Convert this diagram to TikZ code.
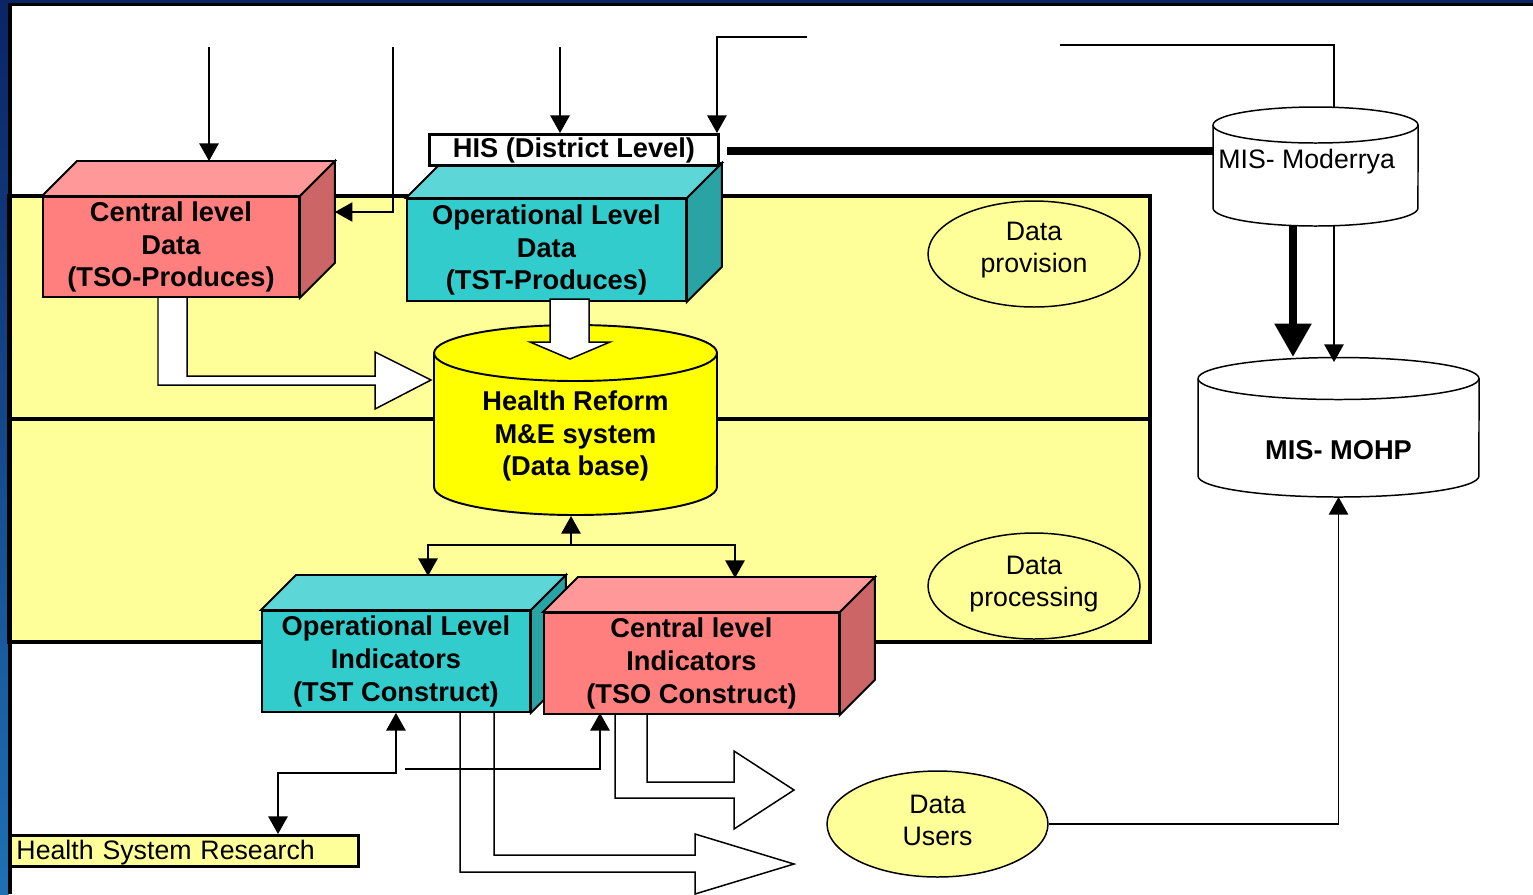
\documentclass[tikz,border=0pt]{standalone}
\usepackage{fontspec}
\setmainfont{Liberation Sans}
\usetikzlibrary{arrows.meta,calc,shapes.geometric}
\definecolor{bandY}{HTML}{FFFF99}
\definecolor{redF}{HTML}{FF7F7F}
\definecolor{redT}{HTML}{FF9999}
\definecolor{redS}{HTML}{CC6666}
\definecolor{tealF}{HTML}{33CCCC}
\definecolor{tealT}{HTML}{5CD6D6}
\definecolor{tealS}{HTML}{29A3A3}
\definecolor{cylY}{HTML}{FFFF00}
\definecolor{navyA}{HTML}{0B2466}
\definecolor{navyB}{HTML}{003399}
\definecolor{navyC}{HTML}{1E70B4}
\newcommand\cubefaces[4]{%
  \draw[boxline,fill=#2] (#1.north west) -- ++(#4,#4) -- ($(#1.north east)+(#4,#4)$) -- (#1.north east) -- cycle;
  \draw[boxline,fill=#3] (#1.north east) -- ++(#4,#4) -- ($(#1.south east)+(#4,#4)$) -- (#1.south east) -- cycle;
}
\tikzset{
  boxline/.style={draw=black, line width=1.1pt, line join=miter},
  frontface/.style={boxline, inner sep=0pt, anchor=north west, align=center,
    font=\bfseries\fontsize{15.5}{18.7}\selectfont},
  conn/.style={line width=0.85pt},
  arr/.style={conn, ->},
  blockarrow/.style={draw=black, fill=white, line width=0.85pt, line join=miter},
  ell/.style={ellipse, draw=black, fill=bandY, line width=0.85pt, inner sep=0pt},
  bt/.style={font=\bfseries\fontsize{15.5}{18.7}\selectfont, align=center, inner sep=0pt},
  nt/.style={font=\fontsize{15.2}{18.2}\selectfont, inner sep=0pt, align=center},
  >={Triangle[length=10pt,width=11pt]}
}
\begin{document}
\begin{tikzpicture}[x=0.02cm,y=0.02cm]
\useasboundingbox (0,0) rectangle (1533,-894);
% background frame
\fill[white] (0,0) rectangle (1533,-894);
\shade[top color=navyA, middle color=navyB, bottom color=navyC] (0,0) rectangle (8.5,-894);
\fill[navyA] (0,0) rectangle (1533,-3);
% yellow band
\draw[line width=2pt, fill=bandY] (9,-196) rectangle (1150,-642);
\draw[line width=2pt] (9,-419) -- (1150,-419);

% block arrows (under boxes)
\draw[blockarrow] (158,-296) -- (187,-296) -- (187,-376) -- (375,-376) -- (375,-352) -- (431,-380) -- (375,-409) -- (375,-385) -- (158,-385) -- cycle;
\draw[blockarrow] (460,-709) -- (494,-709) -- (494,-855) -- (695,-855) -- (695,-834) -- (794,-864) -- (695,-894) -- (695,-872) -- (460,-872) -- cycle;
\draw[blockarrow] (615,-712) -- (647,-712) -- (647,-782) -- (734,-782) -- (734,-751) -- (794,-790) -- (734,-829) -- (734,-798) -- (615,-798) -- cycle;

% Central level data
\node[frontface, fill=redF, minimum width=5.12cm, minimum height=2cm] (cld) at (42,-196) {Central level\\Data\\(TSO-Produces)};
\cubefaces{cld}{redT}{redS}{35}
% Operational level data
\node[frontface, fill=tealF, minimum width=5.58cm, minimum height=2.04cm] (old) at (406,-198) {Operational Level\\Data\\(TST-Produces)};
\cubefaces{old}{tealT}{tealS}{35}
% HIS
\node[draw=black, line width=1.7pt, fill=white, anchor=north west, inner sep=0pt,
  minimum width=5.78cm, minimum height=0.62cm, font=\bfseries\fontsize{15.5}{18}\selectfont] (his) at (428,-133) {HIS (District Level)};

% Health reform cylinder
\draw[boxline, fill=cylY] (434,-353) -- (434,-487) arc[start angle=180, end angle=360, x radius=2.83cm, y radius=0.56cm]
  -- (717,-353) arc[start angle=0, end angle=180, x radius=2.83cm, y radius=0.56cm] -- cycle;
\draw[boxline] (434,-353) arc[start angle=180, end angle=360, x radius=2.83cm, y radius=0.56cm];
\node[bt] (hr) at (575.5,-436) {Health Reform\\M\&E system\\(Data base)};
\coordinate (hrB) at (571,-516);
\draw[blockarrow] (550,-299) -- (589,-299) -- (589,-342) -- (610,-342) -- (570,-359) -- (530,-342) -- (550,-342) -- cycle;

% Indicators
\node[frontface, fill=tealF, minimum width=5.36cm, minimum height=2.02cm] (oli) at (261,-610) {Operational Level\\Indicators\\(TST Construct)};
\cubefaces{oli}{tealT}{tealS}{35}
\node[frontface, fill=redF, minimum width=5.9cm, minimum height=2.02cm] (cli) at (543,-612) {Central level\\Indicators\\(TSO Construct)};
\cubefaces{cli}{redT}{redS}{35}

% ellipses
\node[ell, minimum width=4.24cm, minimum height=2.12cm] (dprov) at (1034,-254) {};
\node[nt] (dprovT) at ($(dprov)+(0,4)$) {Data\\provision};
\node[ell, minimum width=4.24cm, minimum height=2.12cm] (dproc) at (1034,-586) {};
\node[nt] (dprocT) at ($(dproc)+(0,2)$) {Data\\processing};
\node[ell, minimum width=4.42cm, minimum height=2.12cm] (dusers) at (937.5,-824) {};
\node[nt] (dusersT) at ($(dusers)+(0,4)$) {Data\\Users};

% Health System Research
\node[draw=black, line width=1.7pt, fill=bandY, anchor=north west, inner ysep=0pt, inner xsep=0.12cm,
  text width=6.72cm, minimum height=0.62cm, align=left, text depth=0.05cm, font=\fontsize{15.2}{18}\selectfont] (hsr) at (9,-834) {Health System Research};

% MIS Moderrya cylinder
\draw[conn, fill=white] (1213,-125) -- (1213,-208) arc[start angle=180, end angle=360, x radius=2.05cm, y radius=0.36cm]
  -- (1418,-125) arc[start angle=0, end angle=180, x radius=2.05cm, y radius=0.36cm] -- cycle;
\draw[conn] (1213,-125) arc[start angle=180, end angle=360, x radius=2.05cm, y radius=0.36cm];
\node[nt, anchor=west] (mod) at (1218,-162) {MIS- Moderrya};
\coordinate (modL) at (1213,-151);
\coordinate (modT) at (1334,-107);
\coordinate (modB1) at (1293,-226);
\coordinate (modB2) at (1334,-226);

% MIS MOHP cylinder
\draw[conn, fill=white] (1198,-378.5) -- (1198,-476) arc[start angle=180, end angle=360, x radius=2.81cm, y radius=0.42cm]
  -- (1479,-378.5) arc[start angle=0, end angle=180, x radius=2.81cm, y radius=0.42cm] -- cycle;
\draw[conn] (1198,-378.5) arc[start angle=180, end angle=360, x radius=2.81cm, y radius=0.42cm];
\node[bt] (mohp) at (1338.5,-450) {MIS- MOHP};
\coordinate (mohpT1) at (1293,-357);
\coordinate (mohpT2) at (1334,-362);
\coordinate (mohpB) at (1338.5,-497);

% top connectors
\coordinate (t1) at (209,-47);
\coordinate (t2) at (393,-47);
\coordinate (t3) at (560,-47);
\coordinate (t4) at (807,-37);
\coordinate (t5) at (1060,-45);
\coordinate (cldBack) at ($(cld.north west)+(35,35)$);
\draw[arr] (t1) -- (t1 |- cldBack);
\draw[arr] (t2) |- ($(cld.north east)+(35,-16)$);
\draw[arr] (t3) -- (t3 |- his.north);
\draw[arr] (t4) -| ($(his.north east)+(-3,0)$);
\draw[line width=4pt] ($(his.east |- modL)+(7,0)$) -- (modL);
\draw[conn] (t5) -| (modT);
\draw[line width=4.5pt, -{Triangle[length=19pt,width=20pt]}] (modB1) -- (mohpT1);
\draw[arr] (modB2) -- (mohpT2);
\draw[arr] (dusers.east) -| (mohpB);

% lower connectors
\coordinate (hub) at (571,-545);
\coordinate (oliT) at (428,-576);
\coordinate (cliT) at (735,-578);
\draw[arr] (hub) -- (hrB);
\draw[arr] (hub) -| (oliT);
\draw[arr] (hub) -| (cliT);
\coordinate (hsrT) at (278,-834);
\draw[conn, <->] (oli.south) -- ++(0,-60) -| (hsrT);
\coordinate (f1) at (405,-769);
\coordinate (cliB) at (600,-713);
\draw[arr] (f1) -| (cliB);

% frame lines
\draw[line width=1.8pt] (10,-894) -- (10,-4.5) -- (1533,-4.5);
\end{tikzpicture}
\end{document}
